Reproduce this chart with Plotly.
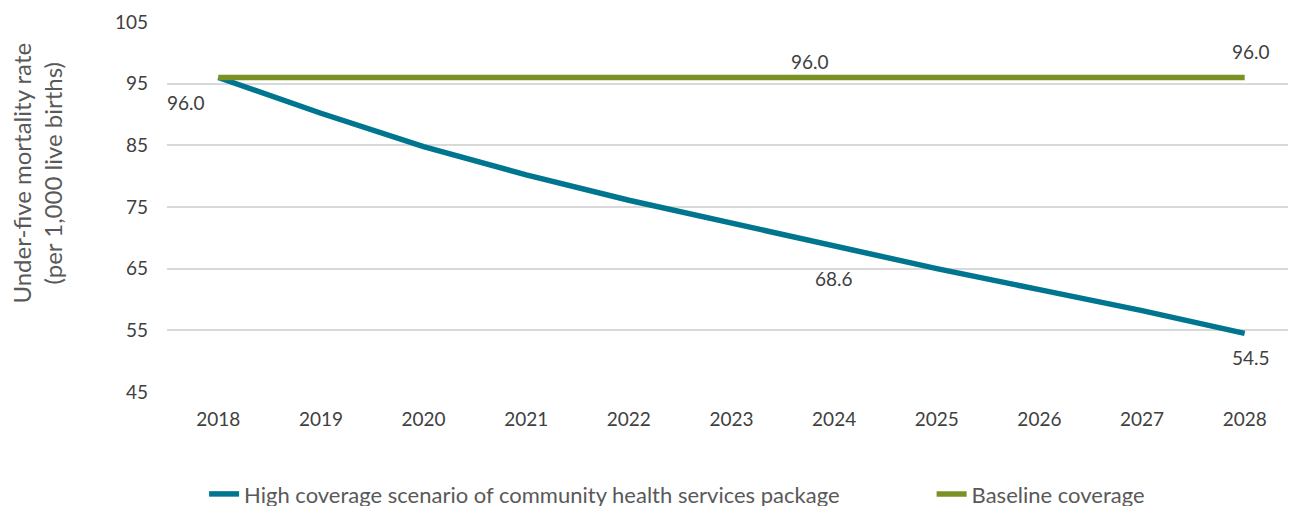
import plotly.graph_objects as go

years = [2018, 2019, 2020, 2021, 2022, 2023, 2024, 2025, 2026, 2027, 2028]
high_coverage = [96.0, 90.2, 84.8, 80.2, 76.1, 72.4, 68.6, 65.0, 61.6, 58.2, 54.5]
baseline = [96.0] * 11
y_ticks = [45, 55, 65, 75, 85, 95, 105]

name_high = "High coverage scenario of community health services package"
name_base = "Baseline coverage"
y_title = "Under-five mortality rate<br>(per 1,000 live births)"

blue = "#00758F"
green = "#7A9224"
txt = "#404040"
font_family = "Lato, 'Open Sans', sans-serif"

fig = go.Figure()
fig.add_trace(go.Scatter(x=years, y=high_coverage, mode="lines", name=name_high,
                         line=dict(color=blue, width=5.5), legend="legend"))
fig.add_trace(go.Scatter(x=years, y=baseline, mode="lines", name=name_base,
                         line=dict(color=green, width=5.5), legend="legend2"))

# data labels (index, series, shift)
labels = [
    (0, high_coverage, -32, -25),
    (6, high_coverage, 0, -32),
    (10, high_coverage, 6, -24),
    (6, baseline, -24, 16),
    (10, baseline, 6, 26),
]
for i, series, xs, ys in labels:
    fig.add_annotation(x=years[i], y=series[i], text=f"{series[i]:.1f}",
                       showarrow=False, xshift=xs, yshift=ys,
                       font=dict(size=19, color=txt, family=font_family))

# y-axis title
fig.add_annotation(xref="paper", yref="paper", x=-0.1155, y=0.592, text=y_title,
                   textangle=-90, showarrow=False, xanchor="center", yanchor="middle",
                   font=dict(size=24, color="#595959", family=font_family))

leg_common = dict(orientation="h", xanchor="left", y=-0.276, yanchor="middle",
                  font=dict(size=22, color="#595959"), itemwidth=30,
                  bgcolor="rgba(0,0,0,0)")
fig.update_layout(
    width=1288, height=498,
    margin=dict(l=159, r=0, t=14, b=114, autoexpand=False),
    paper_bgcolor="white", plot_bgcolor="white",
    font=dict(family=font_family, color=txt, size=19),
    showlegend=True,
    legend=dict(x=0.0116 + 24 / 1129, **leg_common),
    legend2=dict(x=0.656 + 24 / 1129, **leg_common),
)
fig.update_xaxes(range=[2017.5, 2028.5], tickmode="array", tickvals=years,
                 ticktext=[str(y) for y in years], showgrid=False, zeroline=False,
                 showline=False, ticks="", ticklabelstandoff=14,
                 tickfont=dict(size=19, color=txt))
fig.update_yaxes(range=[45, 105], tickmode="array", tickvals=y_ticks,
                 showgrid=True, gridcolor="#D9D9D9", gridwidth=1.5, zeroline=False,
                 showline=False, ticks="", ticklabelstandoff=18,
                 tickfont=dict(size=19, color=txt))

fig.write_html("out.html")
